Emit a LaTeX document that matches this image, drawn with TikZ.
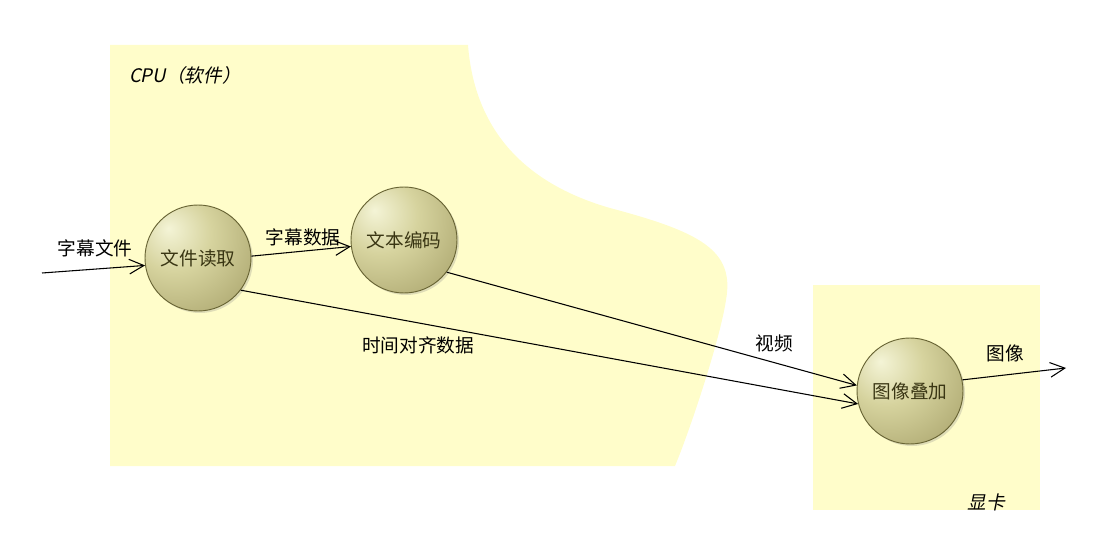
\documentclass[tikz,border=0pt]{standalone}
\usepackage{fontspec}
\setmainfont{Noto Sans CJK SC}
\newfontfamily\cjkslant[FakeSlant=0.2]{Noto Sans CJK SC}
\definecolor{ZoneYellow}{RGB}{255,253,202}
\definecolor{BallLight}{RGB}{244,244,214}
\definecolor{BallMid}{RGB}{214,211,158}
\definecolor{BallDark}{RGB}{160,154,98}
\definecolor{BallEdge}{RGB}{104,100,52}
\definecolor{BallText}{RGB}{58,54,20}
\usepackage{tikz}
\usetikzlibrary{
    arrows.meta,
    positioning,
    shadows,
}
\pgfdeclareradialshading{ballshade}{\pgfpoint{-14bp}{14bp}}{%
    color(0bp)=(BallLight); color(18bp)=(BallMid); color(50bp)=(BallDark); color(100bp)=(BallDark)}

\begin{document}
\begin{tikzpicture}[x=0.75pt, y=-0.75pt,
        proc/.style={circle, draw=BallEdge, line width=0.7pt, shading=ballshade, minimum size=79.5pt,
            font=\fontsize{14}{17}\selectfont, text=BallText,
            drop shadow={opacity=0.25, shadow xshift=1.5pt, shadow yshift=-1.5pt}},
        flow/.style={-{Straight Barb[length=11pt, width=11pt]}, line width=0.8pt, black},
        lbl/.style={font=\fontsize{14}{17}\selectfont, inner sep=0pt},
        zone/.style={fill=ZoneYellow, draw=none},
    ]
        \useasboundingbox (0,0) rectangle (1095,541);
        % the two zones
        \fill[zone] (110,45) -- (468,45) .. controls (475,135) and (530,185) .. (610,208)
            .. controls (700,232) and (735,250) .. (726,300)
            .. controls (720,340) and (690,430) .. (675,466) -- (110,466) -- cycle;
        \fill[zone] (813,285) rectangle (1040,510);
        \node[lbl, font=\cjkslant\fontsize{14}{17}\selectfont] (cpu) at (185,75) {CPU（软件）};
        \node[lbl, font=\cjkslant\fontsize{14}{17}\selectfont] (gpu) at (986,502) {显卡};

        % processes
        \node[proc] (read) at (198,258) {文件读取};
        \node[proc] (enc) at (404,240) {文本编码};
        \node[proc] (mix) at (910,391) {图像叠加};
        \coordinate (src) at (42,273);
        \coordinate (sink) at (1066,368);

        % flows
        \draw[flow] (src) -- (read.188);
        \draw[flow] (read.2) -- (enc.187);
        \draw[flow] (enc.-37) -- (mix.174);
        \draw[flow] (read.-37) -- (mix.194);
        \draw[flow] (mix.12) -- (sink);

        \node[lbl] (lsrc) at (95,248) {字幕文件};
        \node[lbl] (lsub) at (303,237) {字幕数据};
        \node[lbl] (lvid) at (774,343) {视频};
        \node[lbl] (ltime) at (418,345) {时间对齐数据};
        \node[lbl] (limg) at (1005,353) {图像};
\end{tikzpicture}
\end{document}
